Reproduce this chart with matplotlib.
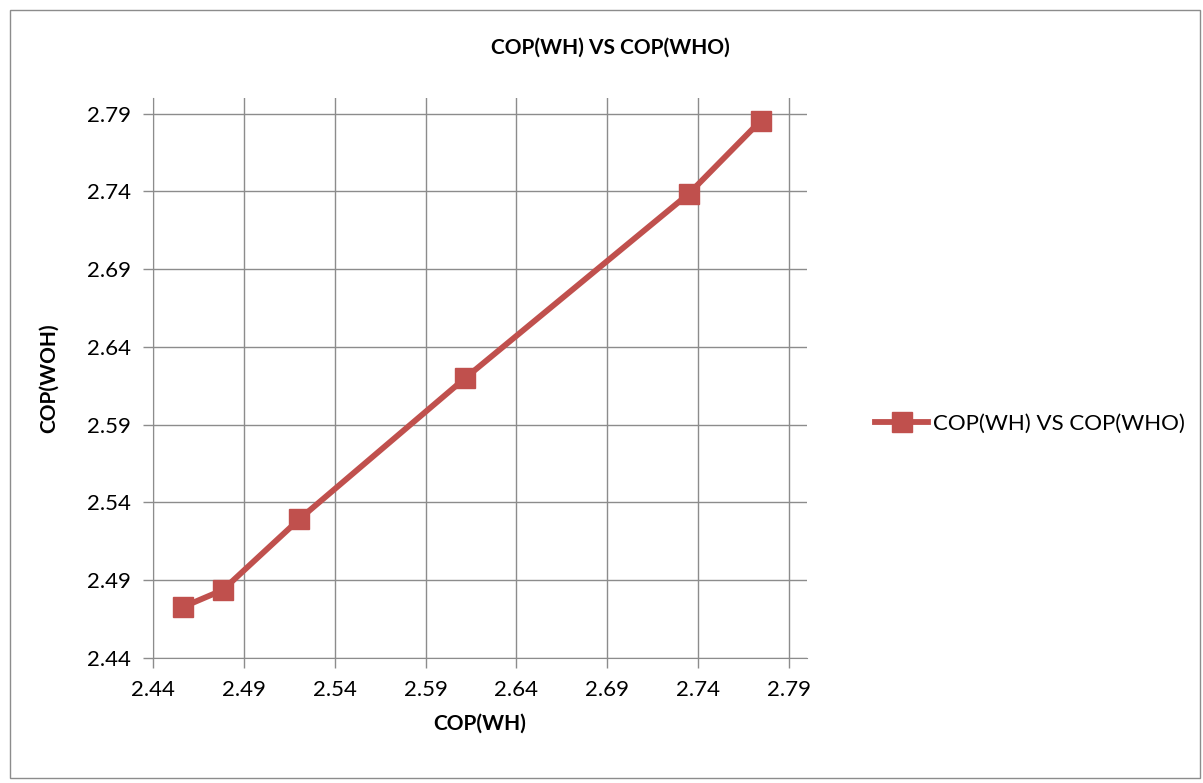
import numpy as np
import matplotlib.pyplot as plt
from matplotlib.patches import Rectangle

# --- Data ----------------------------------------------------------------
cop_wh = [2.4565, 2.4784, 2.5206, 2.6117, 2.7351, 2.7746]
cop_woh = [2.4728, 2.4837, 2.5293, 2.6198, 2.7386, 2.7855]
ticks = [2.44, 2.49, 2.54, 2.59, 2.64, 2.69, 2.74, 2.79]
tick_labels = ["2.44", "2.49", "2.54", "2.59", "2.64", "2.69", "2.74", "2.79"]
series_name = "COP(WH) VS COP(WHO)"

RED = "#C0504D"
GRID = "#8C8C8C"

plt.rcParams["font.family"] = ["Lato", "DejaVu Sans"]

W, H = 1203, 783
fig = plt.figure(figsize=(W / 100, H / 100), dpi=100)

# outer chart border
fig.patches.append(Rectangle((10 / W, 5 / H), 1190 / W, 768 / H,
                             transform=fig.transFigure, fill=False,
                             ec="#8C8C8C", lw=1))

ax = fig.add_axes([153 / W, 1 - 658 / H, (807 - 153) / W, (658 - 98) / H])
ax.plot(cop_wh, cop_woh, "-s", color=RED, lw=4.2, ms=14, mec=RED, mfc=RED,
        label=series_name, zorder=3)

ax.set_xlim(2.44, 2.80)
ax.set_ylim(2.44, 2.80)
ax.set_xticks(ticks, tick_labels)
ax.set_yticks(ticks, tick_labels)
ax.tick_params(labelsize=16, length=7, width=1, color=GRID, pad=9)
ax.grid(True, color=GRID, lw=1)
for side in ["top", "right"]:
    ax.spines[side].set_visible(False)
for side in ["left", "bottom"]:
    ax.spines[side].set_color(GRID)

ax.set_xlabel("COP(WH)", fontsize=15, fontweight="bold", labelpad=10)
ax.set_ylabel("COP(WOH)", fontsize=15, fontweight="bold", labelpad=20)
fig.text(610 / W, 1 - 48 / H, "COP(WH) VS COP(WHO)", ha="center", va="center",
         fontsize=15, fontweight="bold")

fig.legend(loc="center left", bbox_to_anchor=(855 / W, 1 - 424 / H),
           frameon=False, fontsize=16, handlelength=2.4, handletextpad=0.2)

fig.savefig("out.png", dpi=100)
